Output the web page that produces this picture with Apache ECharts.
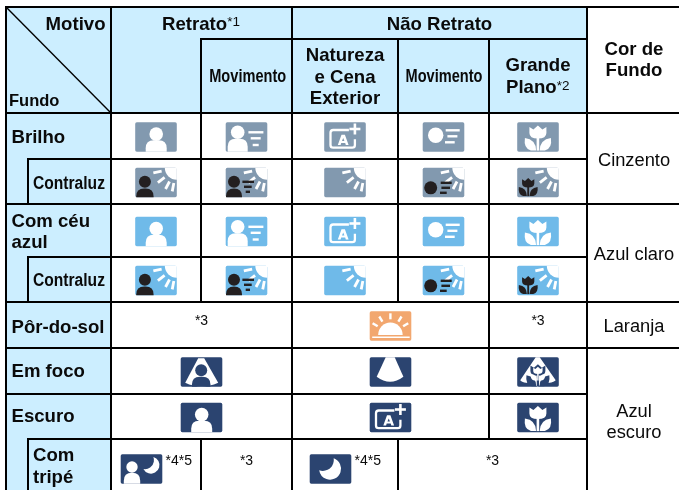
<!DOCTYPE html>
<html>
<head>
<meta charset="utf-8">
<title>Motivo e Fundo</title>
<script src="https://cdn.jsdelivr.net/npm/echarts@6/dist/echarts.min.js"></script>
<style>
  html, body { margin: 0; padding: 0; background: #fff; overflow: hidden; }
  #chart { width: 679px; height: 490px; }
</style>
</head>
<body>
<div id="chart"></div>
<script>
// table content
const rowNames = ['Brilho', 'Contraluz', 'Com céu\nazul', 'Contraluz', 'Pôr-do-sol', 'Em foco', 'Escuro', 'Com\ntripé']
const backgroundNames = ['Cinzento', 'Azul claro', 'Laranja', 'Azul\nescuro']
const backgroundSpans = [2, 2, 1, 3]
const headerNames = ['Motivo', 'Fundo', 'Retrato', 'Não Retrato', 'Movimento', 'Natureza\ne Cena\nExterior', 'Movimento', 'Grande', 'Plano', 'Cor de\nFundo']
const headerNotes = ['*1', '*2']
const rowTints = ['gray', 'gray', 'sky', 'sky', 'orange', 'navy', 'navy', 'navy']
// [icon or note, columns spanned, note next to the icon]
const cellRows = [
  [['person', 1], ['personMove', 1], ['scene', 1], ['move', 1], ['flower', 1]],
  [['personBack', 1], ['personMoveBack', 1], ['sceneBack', 1], ['moveBack', 1], ['flowerBack', 1]],
  [['person', 1], ['personMove', 1], ['scene', 1], ['move', 1], ['flower', 1]],
  [['personBack', 1], ['personMoveBack', 1], ['sceneBack', 1], ['moveBack', 1], ['flowerBack', 1]],
  [['*3', 2], ['sunset', 2], ['*3', 1]],
  [['focusPerson', 2], ['focusScene', 2], ['focusFlower', 1]],
  [['person', 2], ['scene', 2], ['flower', 1]],
  [['personMoon', 1, '*4*5'], ['*3', 1], ['moon', 1, '*4*5'], ['*3', 2]]
]

// table layout: column and row edges in axis units
const xs = [6, 28, 111, 201, 292, 398, 489, 587, 679]
const ys = [7, 39, 113, 159, 204, 257, 302, 348, 394, 439, 490]
// [row edge, from column edge, to column edge]
const hLines = [[0, 0, 8], [1, 3, 7], [2, 0, 8], [3, 1, 7], [4, 0, 8], [5, 1, 7], [6, 0, 8], [7, 0, 8], [8, 0, 7], [9, 1, 7]]
// [column edge, from row edge, to row edge]
const vLines = [[0, 0, 10], [1, 3, 4], [1, 5, 6], [1, 9, 10], [2, 0, 10], [3, 1, 6], [3, 9, 10], [4, 0, 10], [5, 1, 6], [5, 9, 10], [6, 1, 9], [7, 0, 10]]

const tints = { gray: '#8299AF', sky: '#6FBAE9', navy: '#2B4470', orange: '#F2A76F' }
const HEADER_BLUE = '#CCEEFF'
const INK = '#231F20'
const ICON_W = 41.6
const ICON_H = 29.4
const BOLD_SIZE = 18.6
const FONT = '"Liberation Sans", Arial, sans-serif'

// shape helpers, icon local coordinates
const circle = (cx, cy, r, fill) => ({ type: 'circle', shape: { cx, cy, r }, style: { fill } })
const pathOf = (pathData, fill) => ({ type: 'path', shape: { pathData }, style: { fill } })
const bar = (x1, y1, x2, y2, stroke, lineWidth = 2.8) => ({
  type: 'line', shape: { x1, y1, x2, y2 }, style: { stroke, lineWidth, lineCap: 'butt' }
})

function person(cx, headY, r, half, top, fill) {
  const b = top + 8
  return [
    circle(cx, headY, r, fill),
    pathOf(`M${cx - half},${ICON_H} V${b} Q${cx - half},${top} ${cx - half + 8},${top} H${cx + half - 8} Q${cx + half},${top} ${cx + half},${b} V${ICON_H} Z`, fill)
  ]
}

function flower(cx, top, scale, fill) {
  return [{
    type: 'group', x: cx, y: top, scaleX: scale, scaleY: scale,
    children: [
      pathOf('M-8.5,1.5 L-4.5,4 L0,0 L4.5,4 L8.5,1.5 V7.5 Q8.5,13 0,13 Q-8.5,13 -8.5,7.5 Z', fill),
      pathOf('M-1.3,12 H1.3 V25 H-1.3 Z', fill),
      pathOf('M-13,12.5 Q-2,14 -1.8,25 H-7 Q-14.5,23 -13,12.5 Z', fill),
      pathOf('M13,12.5 Q2,14 1.8,25 H7 Q14.5,23 13,12.5 Z', fill)
    ]
  }]
}

function sunBack() {
  const angles = [12, 38, 62, 79]
  const rays = angles.map(a => {
    const t = a * Math.PI / 180
    return bar(ICON_W - 15.5 * Math.cos(t), 15.5 * Math.sin(t), ICON_W - 24 * Math.cos(t), 24 * Math.sin(t), '#fff')
  })
  return [pathOf(`M${ICON_W},0 H${ICON_W - 12} A12,12 0 0 0 ${ICON_W},12 Z`, '#fff'), ...rays]
}

function stripes(list, stroke) {
  return list.map(s => bar(s[0], s[2], s[1], s[2], stroke, 2.4))
}

function sceneMark(tint) {
  const frame = {
    type: 'path',
    shape: { pathData: 'M24.7,7.7 H9 Q6.3,7.7 6.3,10.4 V22.6 Q6.3,25.3 9,25.3 H28 Q30.7,25.3 30.7,22.6 V17' },
    style: { fill: 'none', stroke: '#fff', lineWidth: 2.3 }
  }
  return [
    frame,
    pathOf('M17.3,12.5 H20.7 L24.4,22.6 H21.6 L21,20.7 H17 L16.4,22.6 H13.6 Z', '#fff'),
    pathOf('M19,15.6 L20.2,18.8 H17.8 Z', tint),
    bar(25.2, 6.7, 36.2, 6.7, '#fff', 2.6),
    bar(30.7, 1.2, 30.7, 12.2, '#fff', 2.6)
  ]
}

const glyphs = {
  person: () => person(21, 11.8, 6.8, 10.5, 18, '#fff'),
  personMove: () => [
    ...person(12, 10, 6.8, 10, 16.5, '#fff'),
    ...stripes([[22.7, 37.7, 10], [25, 35, 16], [27, 33, 22.7]], '#fff')
  ],
  scene: tint => sceneMark(tint),
  move: () => [
    circle(13, 13, 7.7, '#fff'),
    ...stripes([[23, 37, 8], [24.7, 34.7, 14], [22.3, 32, 20]], '#fff')
  ],
  flower: () => flower(20.7, 3.3, 1, '#fff'),
  personBack: () => [...sunBack(), ...person(9.7, 14, 6, 8.7, 20.8, INK)],
  personMoveBack: () => [
    ...sunBack(),
    ...person(8.3, 14, 6, 8, 20.8, INK),
    ...stripes([[16.7, 28.3, 14], [18.3, 26, 19], [20, 24.3, 24]], INK)
  ],
  sceneBack: () => sunBack(),
  moveBack: () => [
    ...sunBack(),
    circle(8, 20, 6.5, INK),
    ...stripes([[18, 29, 15], [18.7, 27.3, 20], [17.3, 24, 25]], INK)
  ],
  flowerBack: () => [...sunBack(), ...flower(11, 10.3, 0.72, INK)],
  sunset: () => {
    const rays = [-58, -32, 0, 32, 58].map(a => {
      const t = a * Math.PI / 180
      return bar(20.7 + 15 * Math.sin(t), 23 - 15 * Math.cos(t), 20.7 + 21 * Math.sin(t), 23 - 21 * Math.cos(t), '#fff', 2.4)
    })
    return [pathOf('M8.4,23.6 A12.3,12.3 0 0 1 33,23.6 Z', '#fff'), bar(2.5, 26, 40, 26, '#fff', 1.6), ...rays]
  },
  focusPerson: tint => [
    pathOf('M17.5,1 H23.5 L37.5,25.5 Q20.5,33 4.5,25.5 Z', '#fff'),
    ...person(20.5, 13, 6, 9.3, 19.5, tint)
  ],
  focusScene: () => [pathOf('M16,0 H25 L33.7,19.5 Q20.4,29.5 7,19.5 Z', '#fff')],
  focusFlower: tint => [
    pathOf('M18.5,0 H22.5 L38.5,23 Q36,26 26,26 L20.5,29.4 L15,26 Q5,26 3,23 Z', '#fff'),
    ...flower(20.7, 7, 0.88, tint),
    ...flower(20.7, 9.5, 0.55, '#fff')
  ],
  personMoon: () => [
    ...person(11.3, 12.7, 5.7, 8.2, 18.5, '#fff'),
    pathOf('M32.7,2.7 A8.5,8.5 0 1 1 22.7,14.7 A9,9 0 0 0 32.7,2.7 Z', '#fff')
  ],
  moon: () => [pathOf('M24,4 A11,11 0 1 1 9.5,16 A11,11 0 0 0 24,4 Z', '#fff')]
}

// build marks from the arrays above
const fills = [[0, 0, 7, 2], [0, 2, 2, 10]]
const icons = []
const labels = []

function addLabel(text, x, baseline, size, bold, align, scale) {
  text.split('\n').forEach((line, i) => {
    labels.push({ text: line, x, baseline: baseline + i * 21.2, size, bold, align: align || 'center', scale: scale || 1 })
  })
}

const rowMid = r => (ys[r + 2] + ys[r + 3]) / 2

// header
addLabel(headerNames[0], 105.5, 30, BOLD_SIZE, true, 'right')
addLabel(headerNames[1], 9, 106.5, 16.5, true, 'left')
addLabel(headerNames[2], 162, 30, BOLD_SIZE, true, 'left')
addLabel(headerNotes[0], 227.3, 26, 13.5, false, 'left')
addLabel(headerNames[3], 439.5, 30, BOLD_SIZE, true)
addLabel(headerNames[4], 247.7, 82.7, 18, true, 'center', 0.81)
addLabel(headerNames[5], 345, 61.7, BOLD_SIZE, true)
addLabel(headerNames[6], 444, 82.7, 18, true, 'center', 0.81)
addLabel(headerNames[7], 538, 71.7, BOLD_SIZE, true)
addLabel(headerNames[8], 506, 93.3, BOLD_SIZE, true, 'left')
addLabel(headerNotes[1], 556.7, 90, 13.5, false, 'left')
addLabel(headerNames[9], 634, 55, BOLD_SIZE, true)

// left column
const rowTextShift = [7, 7.8, -3.3, 7.2, 8, 6.8, 6.3, -2.8]
const rowIndent = [11.5, 33, 11.5, 33, 11.5, 11.5, 11.5, 33]
rowNames.forEach((name, r) => {
  const narrow = name === 'Contraluz'
  addLabel(name, rowIndent[r], rowMid(r) + rowTextShift[r], narrow ? 18 : BOLD_SIZE, true, 'left', narrow ? 0.867 : 1)
})

// right column
const backgroundShift = [7.5, 7.7, 7.3, -1.7]
let bgRow = 0
backgroundNames.forEach((name, i) => {
  const mid = (ys[bgRow + 2] + ys[bgRow + 2 + backgroundSpans[i]]) / 2
  addLabel(name, 634, mid + backgroundShift[i], 18.3, false)
  bgRow += backgroundSpans[i]
})

// body cells
cellRows.forEach((cells, r) => {
  let c = 0
  const lift = r === 7 ? 4.5 : 1
  cells.forEach(([content, span, note]) => {
    const cx = (xs[c + 2] + xs[c + 2 + span]) / 2
    if (content[0] === '*') {
      addLabel(content, cx, rowMid(r), 14, false)
    } else {
      const shift = note ? -14.5 : 0
      icons.push({ kind: content, tint: tints[rowTints[r]], x: cx + shift - ICON_W / 2, y: rowMid(r) + lift - ICON_H / 2 })
      if (note) addLabel(note, cx + 9.5, 465, 14, false, 'left')
    }
    c += span
  })
})

function renderFill(params, api) {
  const f = fills[params.dataIndex]
  const a = api.coord([xs[f[0]], ys[f[1]]])
  const b = api.coord([xs[f[2]], ys[f[3]]])
  return { type: 'rect', shape: { x: a[0], y: a[1], width: b[0] - a[0], height: b[1] - a[1] }, style: { fill: HEADER_BLUE } }
}

function renderSegment(params, api) {
  const s = segments[params.dataIndex]
  const a = api.coord(s.slice(0, 2))
  const b = api.coord(s.slice(2, 4))
  return { type: 'line', shape: { x1: a[0], y1: a[1], x2: b[0], y2: b[1] }, style: { stroke: '#000', lineWidth: s[4], lineCap: 'square' } }
}

function renderIcon(params, api) {
  const ic = icons[params.dataIndex]
  const p = api.coord([ic.x, ic.y])
  const plate = {
    type: 'rect',
    shape: { x: 0, y: 0, width: ICON_W, height: ICON_H, r: 1.6 },
    style: { fill: ic.tint }
  }
  return { type: 'group', x: p[0], y: p[1], children: [plate, ...glyphs[ic.kind](ic.tint)] }
}

function renderLabel(params, api) {
  const l = labels[params.dataIndex]
  const p = api.coord([l.x, l.baseline + 1 - 0.3465 * l.size])
  return {
    type: 'text',
    x: p[0],
    y: p[1],
    scaleX: l.scale,
    style: {
      text: l.text,
      x: 0,
      y: 0,
      fill: '#0a0a0a',
      font: `${l.bold ? 'bold ' : ''}${l.size}px ${FONT}`,
      align: l.align,
      verticalAlign: 'middle'
    }
  }
}

const segments = [
  ...hLines.map(h => [xs[h[1]], ys[h[0]], xs[h[2]], ys[h[0]], 2]),
  ...vLines.map(v => [xs[v[0]], ys[v[1]], xs[v[0]], ys[v[2]], 2]),
  [xs[0], ys[0], xs[2], ys[2], 1.4]
]

const customBase = { type: 'custom', coordinateSystem: 'cartesian2d', silent: true, clip: false, animation: false }

const chart = echarts.init(document.getElementById('chart'))
chart.setOption({
  animation: false,
  grid: { left: 0, right: 0, top: 0, bottom: 0 },
  xAxis: { type: 'value', min: 0, max: 679, show: false },
  yAxis: { type: 'value', min: 0, max: 490, inverse: true, show: false },
  series: [
    { ...customBase, name: 'fundos', renderItem: renderFill, data: fills.map(f => [xs[f[0]], ys[f[1]]]), z: 1 },
    { ...customBase, name: 'icones', renderItem: renderIcon, data: icons.map(i => [i.x, i.y]), z: 2 },
    { ...customBase, name: 'linhas', renderItem: renderSegment, data: segments.map(s => [s[0], s[1]]), z: 3 },
    { ...customBase, name: 'textos', renderItem: renderLabel, data: labels.map(l => [l.x, l.baseline]), z: 4 }
  ]
})
</script>
</body>
</html>
